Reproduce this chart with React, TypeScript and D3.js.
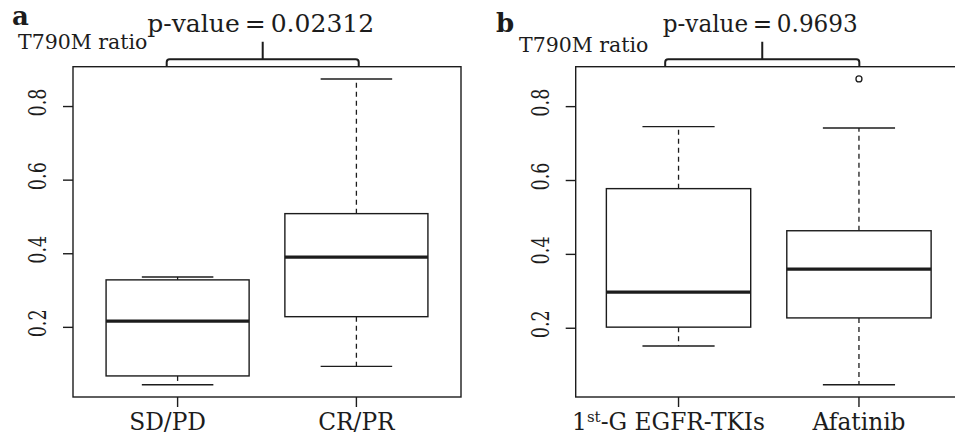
import * as d3 from 'd3';

// values: [lower whisker, Q1, median, Q3, upper whisker]
const categoriesA = ['SD/PD', 'CR/PR'];
const statsA = [
  [0.044, 0.068, 0.217, 0.329, 0.337],
  [0.094, 0.229, 0.391, 0.509, 0.875],
];
const outliersA: number[][] = [[], []];

const categoriesB = ['1st-G EGFR-TKIs', 'Afatinib'];
const statsB = [
  [0.152, 0.203, 0.298, 0.578, 0.746],
  [0.047, 0.228, 0.36, 0.464, 0.742],
];
const outliersB: number[][] = [[], [0.875]];

const yTicks = [0.2, 0.4, 0.6, 0.8];
const pValueA = '0.02312';
const pValueB = '0.9693';

const INK = '#1c1c1c';
const FONT = '"DejaVu Serif", serif';

interface PanelProps {
  letter: string;
  letterX: number;
  letterY: number;
  categories: string[];
  stats: number[][];
  outliers: number[][];
  pValue: string;
  pWidth: number;
  left: number;
  right: number;
  xDomain: [number, number];
  bracket: [number, number];
  yLabelX: number;
  yLabelY: number;
}

function CategoryLabel({ text, x, y }: { text: string; x: number; y: number }) {
  // "1st" gets a superscript like R's plotmath
  if (text.startsWith('1st')) {
    return (
      <text x={x} y={y} textAnchor="middle" fontFamily={FONT} fontSize={23.3} fill={INK}>
        1<tspan fontSize={15} dy={-8}>st</tspan>
        <tspan dy={8}>{text.slice(3)}</tspan>
      </text>
    );
  }
  return (
    <text x={x} y={y} textAnchor="middle" fontFamily={FONT} fontSize={23.3} fill={INK}>
      {text}
    </text>
  );
}

function Panel(p: PanelProps) {
  const top = 66.7;
  const bottom = 397;

  // R's default: data range extended by 4% on each side
  const all = p.stats.flat().concat(p.outliers.flat());
  const [lo, hi] = d3.extent(all) as [number, number];
  const pad = (hi - lo) * 0.04;
  const y = d3.scaleLinear().domain([lo - pad, hi + pad]).range([bottom, top]);
  const x = d3.scaleLinear().domain(p.xDomain).range([p.left, p.right]);

  const boxHalf = 0.4;
  const capHalf = 0.2;

  const bl = x(p.bracket[0]);
  const br = x(p.bracket[1]);
  const bm = (bl + br) / 2;
  const by = top - 7.5;
  const r = 3;
  const bracketPath = d3.path();
  bracketPath.moveTo(bl, top);
  bracketPath.lineTo(bl, by + r);
  bracketPath.quadraticCurveTo(bl, by, bl + r, by);
  bracketPath.lineTo(br - r, by);
  bracketPath.quadraticCurveTo(br, by, br, by + r);
  bracketPath.lineTo(br, top);
  bracketPath.moveTo(bm, by);
  bracketPath.lineTo(bm, top - 25);

  return (
    <g>
      <text x={p.letterX} y={p.letterY} fontFamily={FONT} fontWeight="bold" fontSize={26} fill={INK}>
        {p.letter}
      </text>
      <text x={p.yLabelX} y={p.yLabelY} fontFamily={FONT} fontSize={20.5} fill={INK}>
        T790M ratio
      </text>
      <text
        x={bm - 2}
        y={32}
        textAnchor="middle"
        fontFamily={FONT}
        fontSize={25}
        textLength={p.pWidth}
        lengthAdjust="spacingAndGlyphs"
        fill={INK}
      >
        {`p-value\u2009=\u2009${p.pValue}`}
      </text>
      <path d={bracketPath.toString()} fill="none" stroke={INK} strokeWidth={2} />

      {/* frame */}
      <rect x={p.left} y={top} width={p.right - p.left} height={bottom - top} fill="none" stroke={INK} strokeWidth={1.4} />

      {/* y axis */}
      {yTicks.map((t) => (
        <g key={t}>
          <line x1={p.left - 10} x2={p.left} y1={y(t)} y2={y(t)} stroke={INK} strokeWidth={1.4} />
          <text
            transform={`translate(${p.left - 27},${y(t) - 4}) rotate(-90)`}
            textAnchor="middle"
            fontFamily={FONT}
            fontSize={24}
            textLength={28}
            lengthAdjust="spacingAndGlyphs"
            fill={INK}
          >
            {t.toFixed(1)}
          </text>
        </g>
      ))}

      {/* boxes */}
      {p.stats.map((s, i) => {
        const c = x(i + 1);
        const [wLo, q1, med, q3, wHi] = s;
        return (
          <g key={i}>
            <line x1={c} x2={c} y1={y(q3)} y2={y(wHi)} stroke={INK} strokeWidth={1.3} strokeDasharray="5,4" />
            <line x1={c} x2={c} y1={y(q1)} y2={y(wLo)} stroke={INK} strokeWidth={1.3} strokeDasharray="5,4" />
            <line x1={x(i + 1 - capHalf)} x2={x(i + 1 + capHalf)} y1={y(wHi)} y2={y(wHi)} stroke={INK} strokeWidth={1.4} />
            <line x1={x(i + 1 - capHalf)} x2={x(i + 1 + capHalf)} y1={y(wLo)} y2={y(wLo)} stroke={INK} strokeWidth={1.4} />
            <rect
              x={x(i + 1 - boxHalf)}
              y={y(q3)}
              width={x(i + 1 + boxHalf) - x(i + 1 - boxHalf)}
              height={y(q1) - y(q3)}
              fill="#fff"
              stroke={INK}
              strokeWidth={1.4}
            />
            <line x1={x(i + 1 - boxHalf)} x2={x(i + 1 + boxHalf)} y1={y(med)} y2={y(med)} stroke={INK} strokeWidth={3.2} />
            {p.outliers[i].map((o, k) => (
              <circle key={k} cx={c} cy={y(o)} r={3} fill="none" stroke={INK} strokeWidth={1.3} />
            ))}
            <line x1={c} x2={c} y1={bottom} y2={bottom + 10} stroke={INK} strokeWidth={1.4} />
            <CategoryLabel text={p.categories[i]} x={c + (i === 0 ? -10 : 0)} y={430} />
          </g>
        );
      })}
    </g>
  );
}

export default function App() {
  return (
    <svg
      width={955}
      height={436}
      viewBox="0 0 955 436"
      style={{ position: 'absolute', left: 0, top: 0, background: '#fff' }}
    >
      <rect width={955} height={436} fill="#fff" />
      <Panel
        letter="a"
        letterX={12}
        letterY={25}
        categories={categoriesA}
        stats={statsA}
        outliers={outliersA}
        pValue={pValueA}
        pWidth={227}
        left={73}
        right={461}
        xDomain={[0.415, 2.585]}
        bracket={[0.939, 2.013]}
        yLabelX={18}
        yLabelY={49}
      />
      <Panel
        letter="b"
        letterX={496}
        letterY={32}
        categories={categoriesB}
        stats={statsB}
        outliers={outliersB}
        pValue={pValueB}
        pWidth={195}
        left={575.7}
        right={961.8}
        xDomain={[0.43, 2.57]}
        bracket={[0.926, 2.002]}
        yLabelX={519}
        yLabelY={52}
      />
    </svg>
  );
}
